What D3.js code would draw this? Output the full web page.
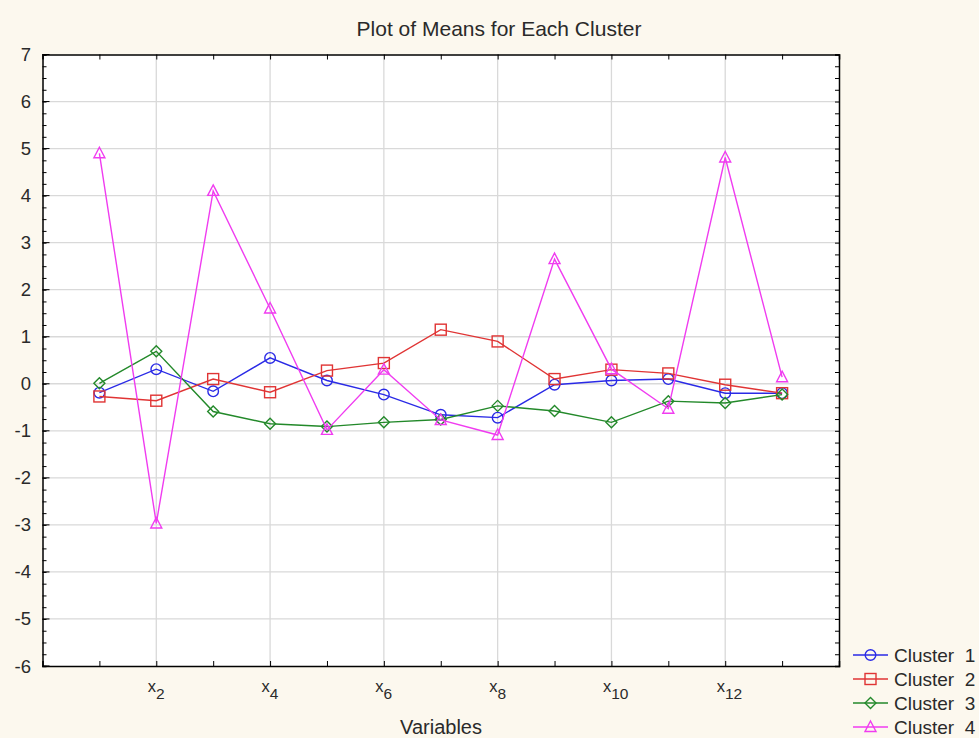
<!DOCTYPE html>
<html><head><meta charset="utf-8">
<script src="https://cdn.jsdelivr.net/npm/d3@7"></script>
<style>
body{margin:0;background:#fcf8ee;}
svg{display:block;font-family:"Liberation Sans",Arial,sans-serif;}
</style></head>
<body><svg id="c" width="979" height="738"></svg>
<script>
const variables = [1,2,3,4,5,6,7,8,9,10,11,12,13];
const labeledVars = [2,4,6,8,10,12];
const yTicks = [-6,-5,-4,-3,-2,-1,0,1,2,3,4,5,6,7];
const seriesNames = ["Cluster  1","Cluster  2","Cluster  3","Cluster  4"];
const cluster1 = [-0.19,0.31,-0.16,0.55,0.07,-0.23,-0.66,-0.72,-0.02,0.07,0.10,-0.20,-0.20];
const cluster2 = [-0.27,-0.36,0.10,-0.18,0.28,0.44,1.15,0.90,0.10,0.30,0.22,-0.02,-0.20];
const cluster3 = [0.01,0.69,-0.59,-0.85,-0.91,-0.82,-0.76,-0.47,-0.58,-0.82,-0.37,-0.41,-0.23];
const cluster4 = [4.90,-2.97,4.10,1.60,-0.98,0.30,-0.77,-1.09,2.65,0.31,-0.53,4.81,0.14];
const colors = ["#2a2ae6","#e03434","#23892a","#f03cf0"];
const markers = ["circle","square","diamond","triangle"];

const svg = d3.select("#c");
const L=42.5,R=839,T=54.5,B=666;
const x = d3.scaleLinear().domain([0,14]).range([L,R]);
const y = d3.scaleLinear().domain([-6,7]).range([B,T]);

svg.append("rect").attr("x",L).attr("y",T).attr("width",R-L).attr("height",B-T).attr("fill","#fff");

// grid
svg.append("g").selectAll("line").data(yTicks.slice(1,-1)).join("line")
  .attr("x1",L).attr("x2",R).attr("y1",d=>y(d)).attr("y2",d=>y(d))
  .attr("stroke","#d9d9d9").attr("stroke-width",1.3);
svg.append("g").selectAll("line").data(labeledVars).join("line")
  .attr("y1",T).attr("y2",B).attr("x1",d=>x(d)).attr("x2",d=>x(d))
  .attr("stroke","#d9d9d9").attr("stroke-width",1.3);

// axes with inward ticks
const minor = d3.range(-6,7.001,0.25);
const axL = d3.axisLeft(y).tickValues(minor).tickSize(-4).tickFormat("");
const axR = d3.axisRight(y).tickValues(minor).tickSize(-4).tickFormat("");
const axB = d3.axisBottom(x).tickValues(variables).tickSize(-5).tickFormat("");
const axT = d3.axisTop(x).tickValues(variables).tickSize(-5).tickFormat("");
function style(g){g.selectAll("path").attr("stroke","#000").attr("stroke-width",1.5);g.selectAll("line").attr("stroke","#000");}
svg.append("g").attr("transform",`translate(${L},0)`).call(axL).call(style);
svg.append("g").attr("transform",`translate(${R},0)`).call(axR).call(style);
svg.append("g").attr("transform",`translate(0,${B})`).call(axB).call(style);
svg.append("g").attr("transform",`translate(0,${T})`).call(axT).call(style);
svg.append("g").selectAll("line").data(yTicks).join("line")
  .attr("x1",L).attr("x2",L+7).attr("y1",d=>y(d)).attr("y2",d=>y(d)).attr("stroke","#000");

// y labels
svg.append("g").selectAll("text").data(yTicks).join("text")
  .attr("x",31).attr("y",d=>y(d)+6.5).attr("text-anchor","end")
  .attr("font-size",18.5).attr("fill","#2a2a2a").text(d=>d);

// x labels
const xl = svg.append("g").selectAll("text").data(labeledVars).join("text")
  .attr("x",d=>x(d)-8.5).attr("y",692).attr("font-size",16.5).attr("fill","#2a2a2a");
xl.append("tspan").text("x");
xl.append("tspan").attr("dy",6.5).attr("font-size",15.5).text(d=>d);

svg.append("text").attr("x",499).attr("y",36).attr("text-anchor","middle")
  .attr("font-size",21).attr("fill","#2a2a2a").text("Plot of Means for Each Cluster");
svg.append("text").attr("x",441).attr("y",734).attr("text-anchor","middle")
  .attr("font-size",20).attr("fill","#2a2a2a").text("Variables");

function drawMarker(g,type,cx,cy){
  if(type==="circle") g.append("circle").attr("cx",cx).attr("cy",cy).attr("r",5.3);
  else if(type==="square") g.append("rect").attr("x",cx-5.5).attr("y",cy-5.5).attr("width",11).attr("height",11);
  else if(type==="diamond") g.append("path").attr("d",`M${cx},${cy-5.5}L${cx+5.5},${cy}L${cx},${cy+5.5}L${cx-5.5},${cy}Z`);
  else g.append("path").attr("d",`M${cx},${cy-6}L${cx+5.5},${cy+4.5}L${cx-5.5},${cy+4.5}Z`);
}

const allSeries=[cluster1,cluster2,cluster3,cluster4];
const line = d3.line().x((d,i)=>x(variables[i])).y(d=>y(d));
allSeries.forEach((s,k)=>{
  const g = svg.append("g").attr("stroke",colors[k]).attr("fill","none").attr("stroke-width",1.4);
  g.append("path").attr("d",line(s));
  s.forEach((v,i)=>drawMarker(g,markers[k],x(variables[i]),y(v)));
});

// legend
seriesNames.forEach((n,k)=>{
  const yy=655+k*24;
  const g=svg.append("g").attr("stroke",colors[k]).attr("fill","none").attr("stroke-width",1.4);
  g.append("line").attr("x1",853).attr("x2",888).attr("y1",yy).attr("y2",yy);
  drawMarker(g,markers[k],870.5,yy);
  svg.append("text").attr("x",894).attr("y",yy+7).attr("font-size",19).attr("fill","#2a2a2a")
    .attr("xml:space","preserve").style("white-space","pre").text(n);
});
</script></body></html>
